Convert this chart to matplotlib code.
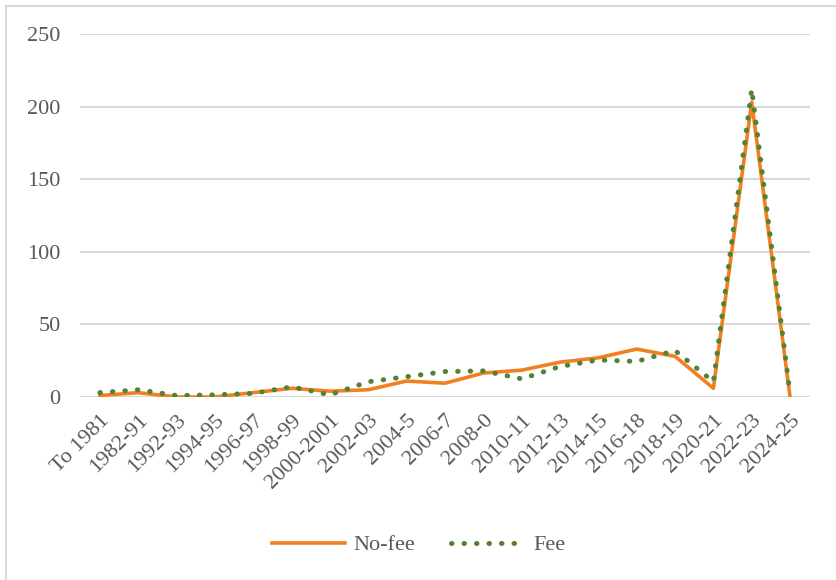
import matplotlib.pyplot as plt
from matplotlib.lines import Line2D

# ================== 数据 ==================
periods = ["To 1981", "1982-91", "1992-93", "1994-95", "1996-97", "1998-99",
           "2000-2001", "2002-03", "2004-5", "2006-7", "2008-0", "2010-11",
           "2012-13", "2014-15", "2016-18", "2018-19", "2020-21", "2022-23",
           "2024-25"]
no_fee = [1, 3, 0, 0, 3, 6, 4, 5, 11, 9.5, 16.5, 18.5, 24, 27, 33, 28, 6, 203, 0]
fee = [3, 5, 1, 1.5, 2.5, 7, 1.5, 10.5, 14, 17.5, 18, 12.5, 21, 25.5, 24.5, 32, 10.5, 212, 2]

# ================== 样式 ==================
plt.rcParams['font.family'] = ['Liberation Serif', 'DejaVu Serif']
text_col = '#595959'
grid_col = '#D9D9D9'

fig = plt.figure(figsize=(8.37, 5.8), dpi=100)
ax = fig.add_axes([80 / 837, 1 - 397 / 580, 730 / 837, 363 / 580])

x = list(range(len(periods)))
ax.plot(x, no_fee, color='#F08020', lw=2.6, label='No-fee', zorder=3)
ax.plot(x, fee, color='#548235', lw=3.6, linestyle=(0, (0.1, 2.4)),
        dash_capstyle='round', label='Fee', zorder=4)

ax.set_ylim(0, 250)
ax.set_yticks([0, 50, 100, 150, 200, 250])
ax.set_xlim(-0.52, len(periods) - 0.48)
ax.set_xticks(x)
ax.set_xticklabels(periods, rotation=45, ha='right', rotation_mode='anchor')
ax.tick_params(axis='both', length=0, labelsize=16, colors=text_col)
ax.tick_params(axis='y', pad=14)
ax.tick_params(axis='x', pad=10)
ax.grid(axis='y', color=grid_col, lw=1.5)
ax.set_axisbelow(True)
for s in ax.spines.values():
    s.set_visible(False)

fig.legend(loc='center', bbox_to_anchor=(0.5, 1 - 545 / 580), ncol=2,
           frameon=False, fontsize=16, handlelength=3.3, handletextpad=0.4,
           columnspacing=1.6, labelcolor=text_col)

# 外框 (只看到上边和左边)
fig.add_artist(Line2D([6 / 837, 1], [1 - 6 / 580, 1 - 6 / 580],
                      transform=fig.transFigure, color=grid_col, lw=1.5))
fig.add_artist(Line2D([6 / 837, 6 / 837], [0, 1 - 6 / 580],
                      transform=fig.transFigure, color=grid_col, lw=1.5))

fig.savefig('out.png', dpi=100)
